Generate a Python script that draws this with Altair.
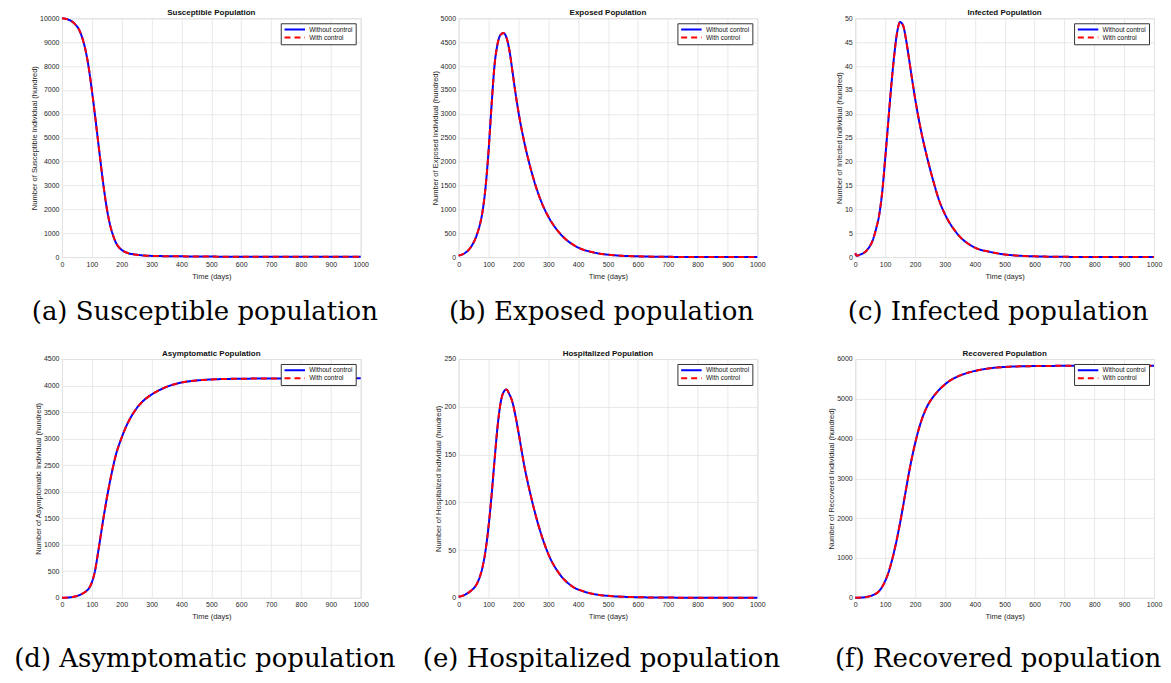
import altair as alt
import pandas as pd

SERIES = ["Without control", "With control"]

# ---- data (values in hundreds); both series coincide in the picture ----
days_S = [0, 20, 40, 60, 70, 80, 90, 100, 110, 120, 130, 140, 150, 160, 170, 180, 190, 200, 220, 250, 300, 400, 500, 600, 700, 800, 900, 1000]
S_without = [10000, 9950, 9800, 9450, 9100, 8600, 7900, 7000, 6000, 4950, 3900, 2900, 2050, 1400, 950, 620, 420, 300, 170, 100, 50, 30, 20, 15, 12, 10, 10, 10]
S_with = [10000, 9950, 9800, 9450, 9100, 8600, 7900, 7000, 6000, 4950, 3900, 2900, 2050, 1400, 950, 620, 420, 300, 170, 100, 50, 30, 20, 15, 12, 10, 10, 10]

days_E = [0, 20, 40, 60, 70, 80, 90, 100, 110, 120, 130, 140, 150, 160, 170, 180, 190, 200, 220, 240, 260, 280, 300, 340, 400, 450, 500, 600, 700, 800, 1000]
E_without = [30, 80, 200, 450, 650, 950, 1450, 2200, 3150, 4000, 4450, 4650, 4690, 4600, 4330, 3900, 3450, 3050, 2400, 1880, 1450, 1110, 850, 490, 200, 100, 50, 15, 5, 2, 1]
E_with = [30, 80, 200, 450, 650, 950, 1450, 2200, 3150, 4000, 4450, 4650, 4690, 4600, 4330, 3900, 3450, 3050, 2400, 1880, 1450, 1110, 850, 490, 200, 100, 50, 15, 5, 2, 1]

days_I = [0, 5, 20, 40, 60, 70, 80, 90, 100, 110, 120, 130, 140, 150, 160, 170, 180, 190, 200, 220, 240, 260, 280, 300, 340, 400, 450, 500, 600, 700, 800, 1000]
I_without = [0.8, 0.3, 0.6, 1.5, 3.8, 6.0, 8.8, 13.5, 20.5, 28, 35.5, 42, 47, 49.2, 48.5, 45.5, 41.5, 37.3, 33.3, 26.5, 21, 16.2, 12.0, 9.0, 5.0, 2.0, 1.1, 0.55, 0.15, 0.05, 0.02, 0.01]
I_with = [0.8, 0.3, 0.6, 1.5, 3.8, 6.0, 8.8, 13.5, 20.5, 28, 35.5, 42, 47, 49.2, 48.5, 45.5, 41.5, 37.3, 33.3, 26.5, 21, 16.2, 12.0, 9.0, 5.0, 2.0, 1.1, 0.55, 0.15, 0.05, 0.02, 0.01]

days_A = [0, 20, 40, 60, 80, 90, 100, 110, 120, 130, 140, 150, 160, 170, 180, 200, 220, 240, 260, 280, 300, 340, 380, 420, 460, 500, 600, 700, 800, 900, 1000]
A_without = [0, 5, 20, 55, 120, 175, 290, 490, 820, 1180, 1540, 1870, 2170, 2440, 2680, 3020, 3290, 3490, 3640, 3750, 3830, 3950, 4030, 4075, 4100, 4115, 4128, 4132, 4134, 4135, 4135]
A_with = [0, 5, 20, 55, 120, 175, 290, 490, 820, 1180, 1540, 1870, 2170, 2440, 2680, 3020, 3290, 3490, 3640, 3750, 3830, 3950, 4030, 4075, 4100, 4115, 4128, 4132, 4134, 4135, 4135]

days_H = [0, 20, 40, 60, 70, 80, 90, 100, 110, 120, 130, 140, 150, 160, 170, 180, 190, 200, 220, 240, 260, 280, 300, 340, 380, 420, 460, 500, 600, 700, 800, 1000]
H_without = [1, 3, 7, 14, 21, 32, 49, 74, 106, 143, 178, 203, 215, 218, 213, 205, 191, 174, 138, 109, 84, 63, 46, 24, 12, 6.5, 3.5, 2, 0.6, 0.2, 0.1, 0.05]
H_with = [1, 3, 7, 14, 21, 32, 49, 74, 106, 143, 178, 203, 215, 218, 213, 205, 191, 174, 138, 109, 84, 63, 46, 24, 12, 6.5, 3.5, 2, 0.6, 0.2, 0.1, 0.05]

days_R = [0, 20, 40, 60, 80, 100, 110, 120, 130, 140, 150, 160, 170, 180, 190, 200, 220, 240, 260, 280, 300, 320, 340, 380, 420, 460, 500, 600, 700, 800, 900, 1000]
R_without = [0, 5, 25, 70, 170, 420, 610, 860, 1160, 1500, 1880, 2300, 2730, 3150, 3530, 3870, 4420, 4800, 5040, 5220, 5360, 5470, 5550, 5660, 5730, 5775, 5800, 5822, 5828, 5830, 5830, 5830]
R_with = [0, 5, 25, 70, 170, 420, 610, 860, 1160, 1500, 1880, 2300, 2730, 3150, 3530, 3870, 4420, 4800, 5040, 5220, 5360, 5470, 5550, 5660, 5730, 5775, 5800, 5822, 5828, 5830, 5830, 5830]

x_ticks = [0, 100, 200, 300, 400, 500, 600, 700, 800, 900, 1000]

panels = [
    dict(title="Susceptible Population", ylab="Number of Susceptible Individual (hundred)",
         cap="(a) Susceptible population", days=days_S, a=S_without, b=S_with, ymax=10000, step=1000),
    dict(title="Exposed Population", ylab="Number of Exposed Individual (hundred)",
         cap="(b) Exposed population", days=days_E, a=E_without, b=E_with, ymax=5000, step=500),
    dict(title="Infected Population", ylab="Number of Infected Individual (hundred)",
         cap="(c) Infected population", days=days_I, a=I_without, b=I_with, ymax=50, step=5),
    dict(title="Asymptomatic Population", ylab="Number of Asymptomatic Individual (hundred)",
         cap="(d) Asymptomatic population", days=days_A, a=A_without, b=A_with, ymax=4500, step=500),
    dict(title="Hospitalized Population", ylab="Number of Hospitalized Individual (hundred)",
         cap="(e) Hospitalized population", days=days_H, a=H_without, b=H_with, ymax=250, step=50),
    dict(title="Recovered Population", ylab="Number of Recovered Individual (hundred)",
         cap="(f) Recovered population", days=days_R, a=R_without, b=R_with, ymax=6000, step=1000),
]

FONT = "Liberation Sans"
W, H = 299, 239


def axis(values, title, tpad):
    return alt.Axis(values=values, title=title, format="d", labelFont=FONT, labelFontSize=7,
                    labelColor="#262626", labelPadding=3, labelFlush=False, labelOverlap=False,
                    titleFont=FONT, titleFontSize=7.5,
                    titleFontWeight="normal", titleColor="#262626", titlePadding=tpad,
                    gridColor="#e3e3e3", gridWidth=0.8, domain=False, ticks=False)


def make_panel(p, cap_dy):
    rows = [{"t": d, "v": v, "series": SERIES[0]} for d, v in zip(p["days"], p["a"])]
    rows += [{"t": d, "v": v, "series": SERIES[1]} for d, v in zip(p["days"], p["b"])]
    df = pd.DataFrame(rows)
    yvals = list(range(0, p["ymax"] + 1, p["step"]))
    leg = alt.Legend(title=None, orient="top-right", offset=5, strokeColor="#333333",
                     fillColor="white", padding=2.5, labelFontSize=6.5, labelFont=FONT,
                     labelColor="#111111", symbolType="stroke", symbolSize=420,
                     symbolStrokeWidth=2, clipHeight=7.5, rowPadding=0, labelOffset=3,
                     cornerRadius=0)
    base = alt.Chart(df).encode(
        x=alt.X("t:Q", scale=alt.Scale(domain=[0, 1000], nice=False), axis=axis(x_ticks, "Time (days)", 5)),
        y=alt.Y("v:Q", scale=alt.Scale(domain=[0, p["ymax"]], nice=False), axis=axis(yvals, p["ylab"], 1)),
        color=alt.Color("series:N", scale=alt.Scale(domain=SERIES, range=["#0000ff", "#ff0000"]), legend=leg),
        strokeDash=alt.StrokeDash("series:N", scale=alt.Scale(domain=SERIES, range=[[1, 0], [6, 4]]), legend=leg),
    )
    l1 = base.transform_filter(alt.datum.series == SERIES[0]).mark_line(strokeWidth=2, interpolate="monotone")
    l2 = base.transform_filter(alt.datum.series == SERIES[1]).mark_line(strokeWidth=2, interpolate="monotone")
    cap = alt.Chart(pd.DataFrame({"c": [p["cap"]]})).mark_text(
        font="DejaVu Serif", fontSize=26, align="center", baseline="alphabetic", color="#000000"
    ).encode(text="c:N", x=alt.value(W / 2 - 6.5), y=alt.value(H + cap_dy))
    return alt.layer(l1, l2, cap).properties(
        width=W, height=H,
        title=alt.TitleParams(p["title"], font=FONT, fontSize=8, fontWeight="bold", color="#111111", offset=-3),
    )


charts = [make_panel(panels[i], 63 if i < 3 else 69) for i in range(6)]

chart = alt.concat(*charts, columns=3, spacing={"row": 102, "column": 98}, bounds="flush").resolve_scale(
    color="independent", strokeDash="independent"
).resolve_legend(color="independent", strokeDash="independent").properties(
    padding={"left": 5, "top": 0, "right": 0, "bottom": 0}
).configure_view(stroke="#262626", strokeWidth=0.8).configure(background="white")

chart.save("out.html", embed_options={"renderer": "svg", "actions": False})
